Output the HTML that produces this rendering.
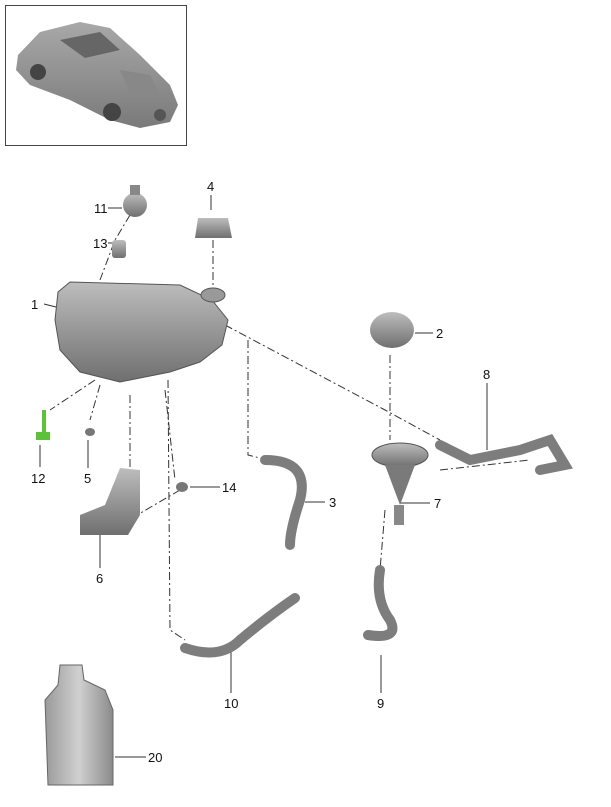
<!DOCTYPE html>
<html><head><meta charset="utf-8"><style>
html,body{margin:0;padding:0;background:#fff;width:611px;height:807px;overflow:hidden}
svg{display:block}
text{font-family:"Liberation Sans",sans-serif;font-size:13px;fill:#111}
</style></head><body>
<svg width="611" height="807" viewBox="0 0 611 807" xmlns="http://www.w3.org/2000/svg">
<defs>
<linearGradient id="g" x1="0" y1="0" x2="0" y2="1"><stop offset="0" stop-color="#bdbdbd"/><stop offset="1" stop-color="#6f6f6f"/></linearGradient>
<linearGradient id="c" x1="0" y1="0" x2="0" y2="1"><stop offset="0" stop-color="#a8a8a8"/><stop offset="1" stop-color="#7a7a7a"/></linearGradient>
<linearGradient id="j" x1="0" y1="0" x2="1" y2="0"><stop offset="0" stop-color="#9a9a9a"/><stop offset=".5" stop-color="#d0d0d0"/><stop offset="1" stop-color="#8a8a8a"/></linearGradient>
</defs>
<rect x="5.5" y="5.5" width="181" height="140" fill="#fff" stroke="#444"/>
<path d="M18 55 L40 32 L80 22 L110 28 L140 55 L170 85 L178 105 L170 122 L140 128 L110 120 L70 100 L30 85 L16 70 Z" fill="url(#c)"/>
<path d="M60 40 L100 32 L120 50 L85 58 Z" fill="#666"/>
<path d="M120 70 L150 75 L160 95 L130 92 Z" fill="#888"/>
<circle cx="38" cy="72" r="8" fill="#444"/><circle cx="112" cy="112" r="9" fill="#444"/><circle cx="160" cy="115" r="6" fill="#555"/>
<g stroke="#333" stroke-width="1" fill="none" stroke-dasharray="8,3,2,3">
<path d="M130 215 L115 240 L100 280"/>
<path d="M213 240 L213 290"/>
<path d="M225 325 L385 410 L440 440"/>
<path d="M248 340 L248 455 L268 460"/>
<path d="M390 355 L390 440"/>
<path d="M385 510 L380 570"/>
<path d="M95 380 L50 410"/>
<path d="M100 385 L90 420"/>
<path d="M130 395 L130 470"/>
<path d="M165 390 L175 480"/>
<path d="M180 490 L120 525"/>
<path d="M168 380 L170 630 L185 640"/>
<path d="M440 470 L530 460"/>
</g>
<g stroke="#333" stroke-width="1">
<line x1="108" y1="208" x2="122" y2="208"/><line x1="211" y1="195" x2="211" y2="210"/>
<line x1="108" y1="243" x2="115" y2="243"/><line x1="44" y1="304" x2="60" y2="308"/>
<line x1="415" y1="333" x2="433" y2="333"/><line x1="487" y1="383" x2="487" y2="450"/>
<line x1="305" y1="502" x2="325" y2="502"/><line x1="400" y1="503" x2="430" y2="503"/>
<line x1="88" y1="440" x2="88" y2="468"/><line x1="190" y1="487" x2="220" y2="487"/>
<line x1="100" y1="535" x2="100" y2="568"/><line x1="231" y1="645" x2="231" y2="693"/>
<line x1="381" y1="655" x2="381" y2="693"/><line x1="115" y1="757" x2="146" y2="757"/>
<line x1="40" y1="445" x2="40" y2="467"/>
</g>
<path d="M58 292 L70 282 L180 285 L212 300 L228 320 L222 345 L200 362 L170 372 L120 382 L80 372 L60 350 L55 320 Z" fill="url(#g)" stroke="#555"/>
<ellipse cx="213" cy="295" rx="12" ry="7" fill="#999" stroke="#555"/>
<path d="M198 218 L228 218 L232 238 L195 238 Z" fill="url(#g)"/>
<circle cx="135" cy="205" r="12" fill="url(#g)"/><rect x="130" y="185" width="10" height="10" fill="#888"/>
<rect x="112" y="240" width="14" height="18" rx="3" fill="url(#g)"/>
<ellipse cx="392" cy="330" rx="22" ry="18" fill="url(#g)"/>
<ellipse cx="400" cy="455" rx="28" ry="12" fill="url(#g)" stroke="#555"/>
<path d="M385 465 L415 465 L400 505 Z" fill="#7a7a7a"/>
<rect x="394" y="505" width="10" height="20" fill="#888"/>
<g fill="none" stroke="#7d7d7d" stroke-width="10" stroke-linecap="round">
<path d="M265 460 Q310 460 300 500 Q290 530 290 545"/>
<path d="M380 570 Q375 600 390 620 Q400 640 368 635"/>
<path d="M185 648 Q220 660 240 640 Q270 615 295 598"/>
<path d="M440 445 L470 460 L520 450 L550 440 L565 465 L540 470"/>
</g>
<path d="M42 410 L46 410 L46 432 L50 432 L50 440 L36 440 L36 432 L42 432 Z" fill="#5dc23a"/>
<ellipse cx="90" cy="432" rx="5" ry="4" fill="#777"/>
<ellipse cx="182" cy="487" rx="6" ry="5" fill="#777"/>
<path d="M120 468 L140 470 L140 515 L128 535 L80 535 L80 515 L105 505 Z" fill="url(#g)"/>
<path d="M60 665 L82 665 L84 680 L105 690 L113 710 L113 785 L48 785 L45 700 L58 685 Z" fill="url(#j)" stroke="#666"/>
<text x="94" y="213">11</text><text x="207" y="191">4</text>
<text x="93" y="248">13</text><text x="31" y="309">1</text>
<text x="436" y="338">2</text><text x="483" y="379">8</text>
<text x="329" y="507">3</text><text x="434" y="508">7</text>
<text x="31" y="483">12</text><text x="84" y="483">5</text>
<text x="222" y="492">14</text><text x="96" y="583">6</text>
<text x="224" y="708">10</text><text x="377" y="708">9</text>
<text x="148" y="762">20</text>
</svg>
</body></html>
